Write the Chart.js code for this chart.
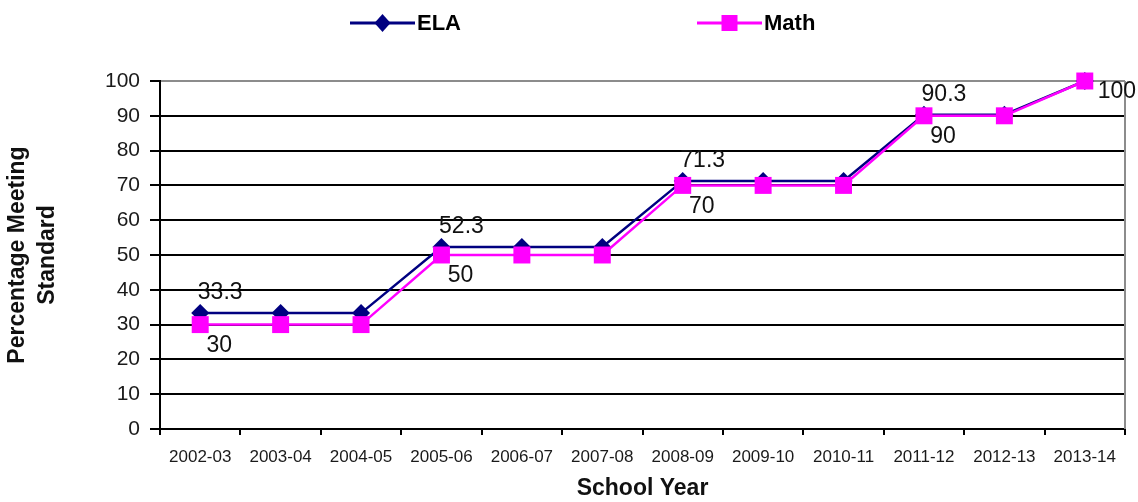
<!DOCTYPE html>
<html>
<head>
<meta charset="utf-8">
<title>Percentage Meeting Standard by School Year</title>
<script src="https://cdn.jsdelivr.net/npm/chart.js@4.4.1/dist/chart.umd.min.js"></script>
<style>
  html, body { margin: 0; padding: 0; background: #ffffff; }
  #wrap { width: 1138px; height: 502px; }
</style>
</head>
<body>
<div id="wrap"><canvas id="chart" width="1138" height="502"></canvas></div>
<script>
// School years on the category axis
const schoolYears = ['2002-03', '2003-04', '2004-05', '2005-06', '2006-07', '2007-08',
                     '2008-09', '2009-10', '2010-11', '2011-12', '2012-13', '2013-14'];

// Annual targets (percent meeting standard)
const elaTargets  = [33.3, 33.3, 33.3, 52.3, 52.3, 52.3, 71.3, 71.3, 71.3, 90.3, 90.3, 100];
const mathTargets = [30, 30, 30, 50, 50, 50, 70, 70, 70, 90, 90, 100];

// Points that carry a value label
const elaLabelIndex  = [0, 3, 6, 9];
const mathLabelIndex = [0, 3, 6, 9, 11];

// Value axis range
const yMin = 0;
const yMax = 100;
const yStep = 10;

const FONT = '"Liberation Sans", Arial, Helvetica, sans-serif';
const NAVY = '#000080';
const MAGENTA = '#ff00ff';

// Legend drawn as line + marker samples across the top
const lineLegend = {
  id: 'lineLegend',
  afterDraw(chart, args, opts) {
    const ctx = chart.ctx;
    ctx.save();
    chart.data.datasets.forEach((ds, i) => {
      const x0 = opts.starts[i];
      const y = opts.y;
      const len = opts.lineLength;
      ctx.strokeStyle = ds.borderColor;
      ctx.lineWidth = 3;
      ctx.beginPath();
      ctx.moveTo(x0, y);
      ctx.lineTo(x0 + len, y);
      ctx.stroke();
      const cx = x0 + len / 2;
      ctx.fillStyle = ds.pointBackgroundColor;
      ctx.beginPath();
      if (ds.pointStyle === 'rectRot') {
        ctx.moveTo(cx, y - 9);
        ctx.lineTo(cx + 8, y);
        ctx.lineTo(cx, y + 9);
        ctx.lineTo(cx - 8, y);
        ctx.closePath();
      } else {
        ctx.rect(cx - 8, y - 8, 16, 16);
      }
      ctx.fill();
      ctx.fillStyle = '#000';
      ctx.font = 'bold 22px ' + FONT;
      ctx.textAlign = 'left';
      ctx.textBaseline = 'middle';
      ctx.fillText(ds.label, x0 + len + 2, y + 1);
    });
    ctx.restore();
  }
};

// Value labels beside selected points
const pointValues = {
  id: 'pointValues',
  afterDatasetsDraw(chart, args, opts) {
    const ctx = chart.ctx;
    ctx.save();
    ctx.font = '23px ' + FONT;
    ctx.fillStyle = '#111';
    ctx.textBaseline = 'middle';
    chart.data.datasets.forEach((ds, di) => {
      const meta = chart.getDatasetMeta(di);
      const place = opts.placement[di];
      ds.labelIndex.forEach(idx => {
        const pt = meta.data[idx];
        const text = String(ds.data[idx]);
        if (idx === ds.data.length - 1 && place.lastRight) {
          ctx.textAlign = 'left';
          ctx.fillText(text, pt.x + 13, pt.y + 11);
        } else {
          ctx.textAlign = 'center';
          ctx.fillText(text, pt.x + place.dx, pt.y + place.dy);
        }
      });
    });
    ctx.restore();
  }
};

// Grey right-hand frame edge
const rightEdge = {
  id: 'rightEdge',
  beforeDatasetsDraw(chart) {
    const { ctx, chartArea } = chart;
    ctx.save();
    ctx.strokeStyle = '#8c8c8c';
    ctx.lineWidth = 2;
    ctx.beginPath();
    ctx.moveTo(chartArea.right, chartArea.top);
    ctx.lineTo(chartArea.right, chartArea.bottom);
    ctx.stroke();
    ctx.restore();
  }
};

new Chart(document.getElementById('chart'), {
  type: 'line',
  data: {
    labels: schoolYears,
    datasets: [
      {
        label: 'ELA',
        data: elaTargets,
        labelIndex: elaLabelIndex,
        borderColor: NAVY,
        backgroundColor: NAVY,
        pointBackgroundColor: NAVY,
        pointBorderColor: NAVY,
        pointStyle: 'rectRot',
        pointRadius: 9,
        pointBorderWidth: 0,
        borderWidth: 2.5,
        tension: 0,
        clip: false,
        order: 2
      },
      {
        label: 'Math',
        data: mathTargets,
        labelIndex: mathLabelIndex,
        borderColor: MAGENTA,
        backgroundColor: MAGENTA,
        pointBackgroundColor: MAGENTA,
        pointBorderColor: MAGENTA,
        pointStyle: 'rect',
        pointRadius: 12,
        pointBorderWidth: 0,
        borderWidth: 2.5,
        tension: 0,
        clip: false,
        order: 1
      }
    ]
  },
  options: {
    responsive: false,
    animation: false,
    devicePixelRatio: 1,
    layout: { padding: { top: 81, right: 13, bottom: 0, left: 0 } },
    plugins: {
      legend: { display: false },
      tooltip: { enabled: false },
      lineLegend: { starts: [350, 697], y: 23, lineLength: 65 },
      pointValues: {
        placement: [
          { dx: 20, dy: -20, lastRight: false },
          { dx: 19, dy: 21, lastRight: true }
        ]
      }
    },
    scales: {
      x: {
        type: 'category',
        offset: true,
        afterFit(scale) { scale.height = 73; },
        grid: {
          offset: true,
          drawOnChartArea: false,
          drawTicks: true,
          tickLength: 6,
          color: '#000',
          lineWidth: 2
        },
        border: { display: true, color: '#000', width: 2 },
        ticks: {
          color: '#1a1a1a',
          font: { family: FONT, size: 17 },
          padding: 12,
          maxRotation: 0,
          autoSkip: false
        },
        title: {
          display: true,
          text: 'School Year',
          color: '#111',
          font: { family: FONT, size: 23, weight: 'bold' },
          padding: { top: 0, bottom: 0 }
        }
      },
      y: {
        min: yMin,
        max: yMax,
        afterFit(scale) { scale.width = 160; },
        ticks: {
          stepSize: yStep,
          color: '#1a1a1a',
          font: { family: FONT, size: 21 },
          padding: 10
        },
        grid: {
          color: ctx => (ctx.tick && ctx.tick.value === yMax) ? '#8c8c8c' : '#000',
          tickColor: '#000',
          lineWidth: 2,
          tickLength: 10
        },
        border: { display: true, color: '#000', width: 2 },
        title: {
          display: true,
          text: ['Percentage Meeting', 'Standard'],
          color: '#111',
          font: { family: FONT, size: 23, weight: 'bold', lineHeight: 1.3 },
          padding: { top: 3, bottom: 0 }
        }
      }
    }
  },
  plugins: [lineLegend, pointValues, rightEdge]
});
</script>
</body>
</html>
